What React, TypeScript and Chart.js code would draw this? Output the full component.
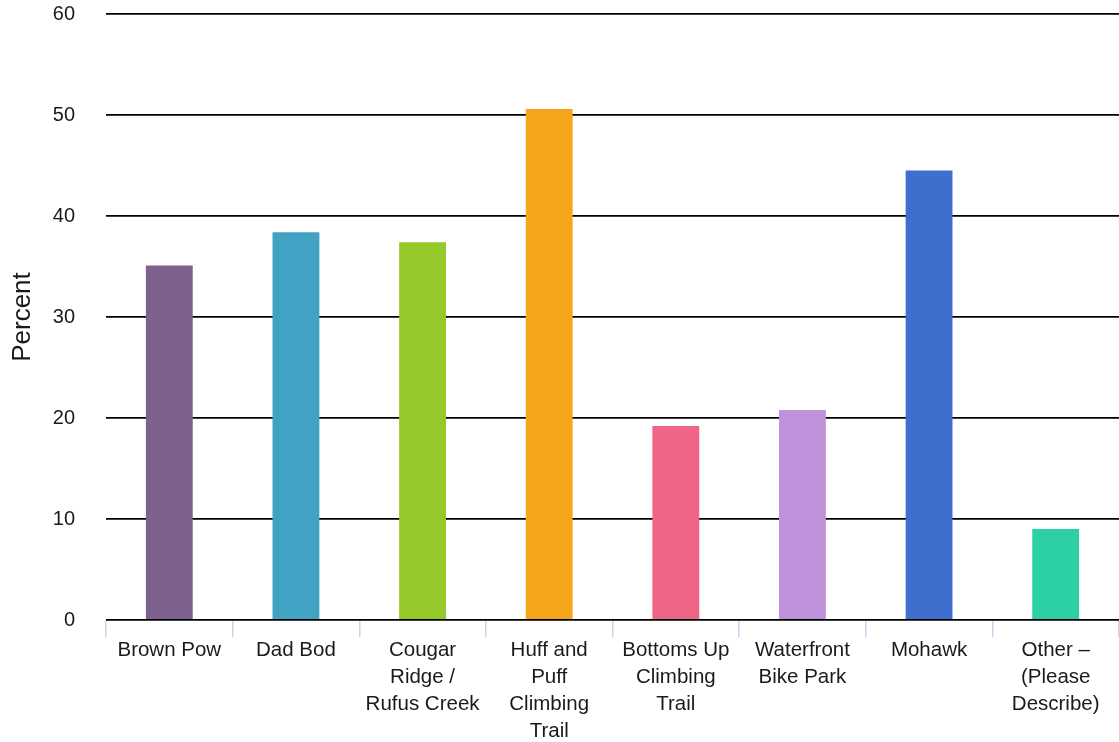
import React, { useEffect, useRef } from "react";
import { Chart, registerables } from "chart.js";

Chart.register(...registerables);

const categories: string[][] = [
  ["Brown Pow"],
  ["Dad Bod"],
  ["Cougar", "Ridge /", "Rufus Creek"],
  ["Huff and", "Puff", "Climbing", "Trail"],
  ["Bottoms Up", "Climbing", "Trail"],
  ["Waterfront", "Bike Park"],
  ["Mohawk"],
  ["Other –", "(Please", "Describe)"],
];
const percentValues: number[] = [35.1, 38.4, 37.4, 50.6, 19.2, 20.8, 44.5, 9.0];
const barColors: string[] = [
  "#7d618e",
  "#41a3c3",
  "#95c829",
  "#f5a61a",
  "#ef6585",
  "#bf93dc",
  "#3e6fcf",
  "#2dcfa4",
];
const yTicks: number[] = [0, 10, 20, 30, 40, 50, 60];

export default function App() {
  const ref = useRef<HTMLCanvasElement | null>(null);
  useEffect(() => {
    if (!ref.current) return;
    const font = "'Liberation Sans', Arial, Helvetica, sans-serif";
    const chart = new Chart(ref.current, {
      type: "bar",
      data: {
        labels: categories,
        datasets: [
          {
            data: percentValues,
            backgroundColor: barColors,
            barPercentage: 0.37,
            categoryPercentage: 1,
          },
        ],
      },
      options: {
        animation: false,
        responsive: false,
        maintainAspectRatio: false,
        layout: { padding: { top: 14, right: 0, left: 0, bottom: 0 } },
        plugins: { legend: { display: false }, tooltip: { enabled: false } },
        scales: {
          x: {
            offset: true,
            grid: {
              offset: true,
              drawOnChartArea: false,
              drawTicks: true,
              tickLength: 17,
              color: "#c9d5ea",
              lineWidth: 1.5,
            },
            border: { display: false },
            ticks: {
              maxRotation: 0,
              minRotation: 0,
              autoSkip: false,
              padding: 0,
              color: "#1a1a1a",
              font: { family: font, size: 20.5, lineHeight: 1.32 },
            },
            afterFit: (s: any) => {
              s.height = 122;
            },
          },
          y: {
            min: 0,
            max: 60,
            afterBuildTicks: (s: any) => {
              s.ticks = yTicks.map((v) => ({ value: v }));
            },
            grid: {
              drawTicks: false,
              color: "#000",
              lineWidth: 1.8,
            },
            border: { display: false },
            ticks: {
              padding: 31,
              color: "#1a1a1a",
              font: { family: font, size: 20 },
            },
            title: {
              display: true,
              text: "Percent",
              color: "#1a1a1a",
              padding: { top: 7, bottom: 0 },
              font: { family: font, size: 26, lineHeight: 1.2 },
            },
            afterFit: (s: any) => {
              s.width = 106;
              s.paddingTop = 0;
              s.paddingBottom = 0;
            },
          },
        },
      },
    });
    return () => chart.destroy();
  }, []);
  return (
    <div style={{ position: "fixed", left: 0, top: 0, width: 1119, height: 742, background: "#fff" }}>
      <canvas ref={ref} width={1119} height={742} style={{ display: "block" }} />
    </div>
  );
}
